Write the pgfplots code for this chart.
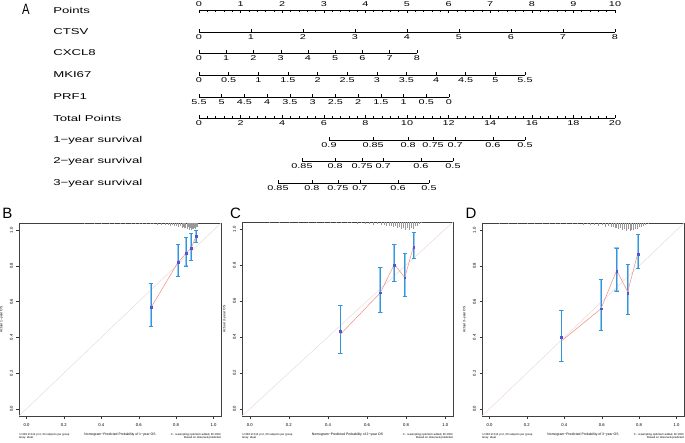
\documentclass[border=0pt]{standalone}
\usepackage{fontspec}
\setmainfont{Liberation Sans}
\usepackage{graphicx}
\usepackage{pgfplots}
\pgfplotsset{compat=1.18}

\newcommand{\labf}{\fontsize{8.5}{10}\selectfont}
\newcommand{\tickf}{\fontsize{7}{8}\selectfont}
\newcommand{\cticf}{\fontsize{4.2}{5}\selectfont}
\newcommand{\clabf}{\fontsize{3.4}{4}\selectfont}
\newcommand{\csubf}{\fontsize{2.8}{3.4}\selectfont}

\definecolor{ideal}{RGB}{235,218,218}
\definecolor{redl}{RGB}{240,140,125}
\definecolor{ebl}{RGB}{150,200,238}
\definecolor{ebd}{RGB}{50,150,222}
\definecolor{ptb}{RGB}{90,80,215}

\pgfplotsset{
 nomo/.style={scale only axis, height=8pt, ymin=0, ymax=1,
   axis y line=none, axis x line*=bottom, clip=false,
   tick align=inside, major tick length=3pt, minor tick length=1.6pt,
   tick style={black, line width=0.5pt},
   axis line style={line width=0.5pt, black},
   xticklabel style={font=\tickf, xscale=1.55, inner sep=2.8pt},
   /pgf/number format/assume math mode=true,
   anchor=south west},
 calib/.style={scale only axis, anchor=south west, clip=false,
   xmin=-0.04, xmax=1.04, ymin=-0.04, ymax=1.04,
   xtick={0,0.2,0.4,0.6,0.8,1}, ytick={0,0.2,0.4,0.6,0.8,1},
   tick align=outside, tick pos=left, major tick length=2.5pt,
   tick style={black!80, line width=0.4pt},
   axis line style={line width=0.5pt, black!75},
   /pgf/number format/assume math mode=true,
   xticklabel style={font=\cticf, yshift=-1.5pt, /pgf/number format/.cd, fixed, fixed zerofill, precision=1},
   yticklabel style={font=\cticf, rotate=90, anchor=south, /pgf/number format/.cd, fixed, fixed zerofill, precision=1},
   label style={font=\clabf},
 },
 spikes/.style={draw=none, mark=none, forget plot,
   error bars/.cd, y dir=minus, y explicit,
   error bar style={color=black!40, line width=0.35pt}, error mark=none},
 ebwide/.style={draw=none, mark=none, forget plot,
   error bars/.cd, y dir=both, y explicit,
   error bar style={color=ebl, line width=1.8pt},
   error mark=-,
   error mark options={rotate=90, ebl, line width=1.2pt, mark size=2.2pt}},
 ebthin/.style={draw=none, mark=none, forget plot,
   error bars/.cd, y dir=both, y explicit,
   error bar style={color=ebd, line width=0.6pt},
   error mark=-,
   error mark options={rotate=90, ebd, line width=0.7pt, mark size=2pt}},
}

\begin{document}
\begin{tikzpicture}[x=1pt,y=1pt]
\path[use as bounding box] (0pt,0pt) rectangle (685pt,442pt);

% ---------------- Nomogram (A) ----------------
\node[font=\fontsize{15}{15}\selectfont, xscale=0.75, inner sep=0] at (26pt,432.5pt) {A};
\foreach \yy/\tt in {432/Points, 410/CTSV, 389/CXCL8, 367/MKI67, 345/PRF1, 324/Total Points, 302/1−year survival, 281/2−year survival, 259/3−year survival}{
  \node[anchor=west, font=\labf, xscale=1.55, inner sep=0] at (53pt,\yy pt) {\tt};
}

\begin{axis}[nomo, axis x line*=top, anchor=north west, at={(199pt,432pt)}, width=416pt,
  xmin=0, xmax=10, xtick={0,1,2,3,4,5,6,7,8,9,10}, minor x tick num=4]
\end{axis}
\begin{axis}[nomo, at={(199pt,410pt)}, width=416pt,
  xmin=0, xmax=8, xtick={0,1,2,3,4,5,6,7,8}]
\end{axis}
\begin{axis}[nomo, at={(199pt,389pt)}, width=218pt,
  xmin=0, xmax=8, xtick={0,1,2,3,4,5,6,7,8}]
\end{axis}
\begin{axis}[nomo, at={(199pt,367pt)}, width=326pt,
  xmin=0, xmax=5.5, xtick={0,0.5,1,1.5,2,2.5,3,3.5,4,4.5,5,5.5}]
\end{axis}
\begin{axis}[nomo, at={(199pt,345pt)}, width=250pt, x dir=reverse,
  xmin=0, xmax=5.5, xtick={0,0.5,1,1.5,2,2.5,3,3.5,4,4.5,5,5.5}]
\end{axis}
\begin{axis}[nomo, at={(199pt,324pt)}, width=416pt,
  xmin=0, xmax=20, xtick={0,2,4,6,8,10,12,14,16,18,20}, minor x tick num=4]
\end{axis}
% survival scales, positioned in Total Points units (20.8 pt per point)
\begin{axis}[nomo, at={(329pt,302pt)}, width=196pt,
  xmin=6.25, xmax=15.67, xtick={6.25,8.37,10.05,11.25,12.31,14.13,15.67},
  xticklabels={0.9,0.85,0.8,0.75,0.7,0.6,0.5}]
\end{axis}
\begin{axis}[nomo, at={(302pt,281pt)}, width=151pt,
  xmin=4.95, xmax=12.21, xtick={4.95,6.54,7.84,8.85,10.67,12.21},
  xticklabels={0.85,0.8,0.75,0.7,0.6,0.5}]
\end{axis}
\begin{axis}[nomo, at={(278pt,259pt)}, width=151pt,
  xmin=3.80, xmax=11.06, xtick={3.80,5.43,6.68,7.74,9.57,11.06},
  xticklabels={0.85,0.8,0.75,0.7,0.6,0.5}]
\end{axis}

% ---------------- Panel B ----------------
\node[font=\fontsize{15}{15}\selectfont, inner sep=0] at (7.5pt,229pt) {B};
\begin{axis}[calib, at={(19pt,26pt)}, width=202pt, height=193pt,
  xlabel={Nomogram−Predicted Probability of 1−year OS}, ylabel={Actual 1−year OS}]
\addplot[ideal, line width=0.5pt, forget plot] coordinates {(-0.04,-0.04) (1.04,1.04)};
\addplot[spikes] coordinates {
(0.31,1.04) +- (0,0.004) (0.36,1.04) +- (0,0.004) (0.40,1.04) +- (0,0.004) (0.44,1.04) +- (0,0.005)
(0.47,1.04) +- (0,0.004) (0.50,1.04) +- (0,0.005) (0.53,1.04) +- (0,0.005) (0.56,1.04) +- (0,0.006)
(0.58,1.04) +- (0,0.005) (0.60,1.04) +- (0,0.006) (0.62,1.04) +- (0,0.007) (0.64,1.04) +- (0,0.006)
(0.66,1.04) +- (0,0.008) (0.68,1.04) +- (0,0.008) (0.70,1.04) +- (0,0.009) (0.72,1.04) +- (0,0.010)
(0.74,1.04) +- (0,0.012) (0.755,1.04) +- (0,0.010) (0.77,1.04) +- (0,0.015) (0.78,1.04) +- (0,0.013)
(0.79,1.04) +- (0,0.018) (0.80,1.04) +- (0,0.016) (0.81,1.04) +- (0,0.022) (0.82,1.04) +- (0,0.018)
(0.83,1.04) +- (0,0.026) (0.84,1.04) +- (0,0.022) (0.845,1.04) +- (0,0.030) (0.85,1.04) +- (0,0.028)
(0.86,1.04) +- (0,0.035) (0.865,1.04) +- (0,0.025) (0.87,1.04) +- (0,0.038) (0.875,1.04) +- (0,0.030)
(0.88,1.04) +- (0,0.040) (0.885,1.04) +- (0,0.033) (0.89,1.04) +- (0,0.036) (0.895,1.04) +- (0,0.028)
(0.90,1.04) +- (0,0.032) (0.905,1.04) +- (0,0.022) (0.91,1.04) +- (0,0.020) (0.915,1.04) +- (0,0.012)};
\addplot[ebwide] coordinates {(0.665,0.57) += (0,0.13) -= (0,0.11) (0.81,0.82) += (0,0.10) -= (0,0.08)
  (0.853,0.87) += (0,0.09) -= (0,0.07) (0.881,0.90) += (0,0.08) -= (0,0.07) (0.907,0.967) += (0,0.033) -= (0,0.037)};
\addplot[ebthin] coordinates {(0.665,0.57) += (0,0.13) -= (0,0.11) (0.81,0.82) += (0,0.10) -= (0,0.08)
  (0.853,0.87) += (0,0.09) -= (0,0.07) (0.881,0.90) += (0,0.08) -= (0,0.07) (0.907,0.967) += (0,0.033) -= (0,0.037)};
\addplot[redl, line width=0.5pt, mark=none] coordinates {(0.665,0.565) (0.81,0.82) (0.853,0.87) (0.881,0.90) (0.907,0.967)};
\addplot[only marks, mark=square*, mark size=0.9pt, ptb] coordinates {(0.665,0.57) (0.81,0.82) (0.853,0.87) (0.881,0.90) (0.907,0.967)};
\end{axis}
\node[anchor=north west, font=\csubf, align=left, inner sep=0] at (19pt,9pt) {n=336 d=114 p=4, 50 subjects per group\\Gray: ideal};
\node[anchor=north east, font=\csubf, align=right, inner sep=0] at (221pt,9pt) {X - resampling optimism added, B=1000\\Based on observed-predicted};

% ---------------- Panel C ----------------
\node[font=\fontsize{15}{15}\selectfont, inner sep=0] at (235.5pt,229pt) {C};
\begin{axis}[calib, at={(242pt,26pt)}, width=211pt, height=194pt,
  xlabel={Nomogram−Predicted Probability of 2−year OS}, ylabel={Actual 2−year OS}]
\addplot[ideal, line width=0.5pt, forget plot] coordinates {(-0.04,-0.04) (1.04,1.04)};
\addplot[spikes] coordinates {
(0.10,1.04) +- (0,0.003) (0.15,1.04) +- (0,0.003) (0.20,1.04) +- (0,0.004) (0.25,1.04) +- (0,0.003)
(0.30,1.04) +- (0,0.004) (0.34,1.04) +- (0,0.004) (0.38,1.04) +- (0,0.005) (0.41,1.04) +- (0,0.005)
(0.44,1.04) +- (0,0.006) (0.47,1.04) +- (0,0.006) (0.50,1.04) +- (0,0.008) (0.52,1.04) +- (0,0.006)
(0.55,1.04) +- (0,0.010) (0.57,1.04) +- (0,0.008) (0.59,1.04) +- (0,0.012) (0.61,1.04) +- (0,0.010)
(0.63,1.04) +- (0,0.014) (0.65,1.04) +- (0,0.012) (0.67,1.04) +- (0,0.018) (0.69,1.04) +- (0,0.016)
(0.70,1.04) +- (0,0.020) (0.715,1.04) +- (0,0.024) (0.725,1.04) +- (0,0.020) (0.735,1.04) +- (0,0.030)
(0.745,1.04) +- (0,0.025) (0.755,1.04) +- (0,0.035) (0.765,1.04) +- (0,0.030) (0.775,1.04) +- (0,0.040)
(0.785,1.04) +- (0,0.034) (0.795,1.04) +- (0,0.045) (0.805,1.04) +- (0,0.036) (0.815,1.04) +- (0,0.042)
(0.825,1.04) +- (0,0.032) (0.835,1.04) +- (0,0.038) (0.845,1.04) +- (0,0.025) (0.855,1.04) +- (0,0.020)
(0.865,1.04) +- (0,0.012) (0.875,1.04) +- (0,0.008)};
\addplot[ebwide] coordinates {(0.464,0.43) += (0,0.145) -= (0,0.12) (0.668,0.646) += (0,0.139) -= (0,0.11)
  (0.74,0.80) += (0,0.114) -= (0,0.093) (0.793,0.73) += (0,0.134) -= (0,0.106) (0.839,0.90) += (0,0.08) -= (0,0.064)};
\addplot[ebthin] coordinates {(0.464,0.43) += (0,0.145) -= (0,0.12) (0.668,0.646) += (0,0.139) -= (0,0.11)
  (0.74,0.80) += (0,0.114) -= (0,0.093) (0.793,0.73) += (0,0.134) -= (0,0.106) (0.839,0.90) += (0,0.08) -= (0,0.064)};
\addplot[redl, line width=0.5pt, mark=none] coordinates {(0.464,0.415) (0.668,0.646) (0.74,0.805) (0.793,0.73) (0.839,0.91)};
\addplot[only marks, mark=square*, mark size=0.9pt, ptb] coordinates {(0.464,0.43) (0.668,0.646) (0.74,0.80) (0.793,0.73) (0.839,0.90)};
\end{axis}
\node[anchor=north west, font=\csubf, align=left, inner sep=0] at (242pt,9pt) {n=336 d=114 p=4, 50 subjects per group\\Gray: ideal};
\node[anchor=north east, font=\csubf, align=right, inner sep=0] at (453pt,9pt) {X - resampling optimism added, B=1000\\Based on observed-predicted};

% ---------------- Panel D ----------------
\node[font=\fontsize{15}{15}\selectfont, inner sep=0] at (471pt,229pt) {D};
\begin{axis}[calib, at={(482pt,26pt)}, width=202pt, height=193pt,
  xlabel={Nomogram−Predicted Probability of 3−year OS}, ylabel={Actual 3−year OS}]
\addplot[ideal, line width=0.5pt, forget plot] coordinates {(-0.04,-0.04) (1.04,1.04)};
\addplot[spikes] coordinates {
(0.05,1.04) +- (0,0.003) (0.10,1.04) +- (0,0.003) (0.15,1.04) +- (0,0.004) (0.20,1.04) +- (0,0.004)
(0.24,1.04) +- (0,0.005) (0.28,1.04) +- (0,0.004) (0.32,1.04) +- (0,0.006) (0.35,1.04) +- (0,0.005)
(0.38,1.04) +- (0,0.006) (0.41,1.04) +- (0,0.007) (0.44,1.04) +- (0,0.006) (0.47,1.04) +- (0,0.008)
(0.50,1.04) +- (0,0.010) (0.52,1.04) +- (0,0.008) (0.54,1.04) +- (0,0.012) (0.56,1.04) +- (0,0.010)
(0.58,1.04) +- (0,0.015) (0.60,1.04) +- (0,0.013) (0.62,1.04) +- (0,0.020) (0.635,1.04) +- (0,0.018)
(0.65,1.04) +- (0,0.025) (0.66,1.04) +- (0,0.022) (0.67,1.04) +- (0,0.030) (0.68,1.04) +- (0,0.026)
(0.69,1.04) +- (0,0.035) (0.70,1.04) +- (0,0.030) (0.71,1.04) +- (0,0.040) (0.72,1.04) +- (0,0.034)
(0.73,1.04) +- (0,0.042) (0.74,1.04) +- (0,0.036) (0.75,1.04) +- (0,0.045) (0.76,1.04) +- (0,0.038)
(0.77,1.04) +- (0,0.040) (0.78,1.04) +- (0,0.032) (0.79,1.04) +- (0,0.035) (0.80,1.04) +- (0,0.025)
(0.81,1.04) +- (0,0.020) (0.82,1.04) +- (0,0.015) (0.835,1.04) +- (0,0.010) (0.85,1.04) +- (0,0.006)};
\addplot[ebwide] coordinates {(0.385,0.40) += (0,0.15) -= (0,0.136) (0.596,0.56) += (0,0.166) -= (0,0.123)
  (0.68,0.77) += (0,0.13) -= (0,0.11) (0.739,0.646) += (0,0.162) -= (0,0.116) (0.794,0.864) += (0,0.113) -= (0,0.078)};
\addplot[ebthin] coordinates {(0.385,0.40) += (0,0.15) -= (0,0.136) (0.596,0.56) += (0,0.166) -= (0,0.123)
  (0.68,0.77) += (0,0.13) -= (0,0.11) (0.739,0.646) += (0,0.162) -= (0,0.116) (0.794,0.864) += (0,0.113) -= (0,0.078)};
\addplot[redl, line width=0.5pt, mark=none] coordinates {(0.385,0.38) (0.596,0.56) (0.68,0.775) (0.739,0.655) (0.794,0.875)};
\addplot[only marks, mark=square*, mark size=0.9pt, ptb] coordinates {(0.385,0.40) (0.596,0.56) (0.68,0.77) (0.739,0.646) (0.794,0.864)};
\end{axis}
\node[anchor=north west, font=\csubf, align=left, inner sep=0] at (482pt,9pt) {n=336 d=114 p=4, 50 subjects per group\\Gray: ideal};
\node[anchor=north east, font=\csubf, align=right, inner sep=0] at (684pt,9pt) {X - resampling optimism added, B=1000\\Based on observed-predicted};
\end{tikzpicture}
\end{document}
